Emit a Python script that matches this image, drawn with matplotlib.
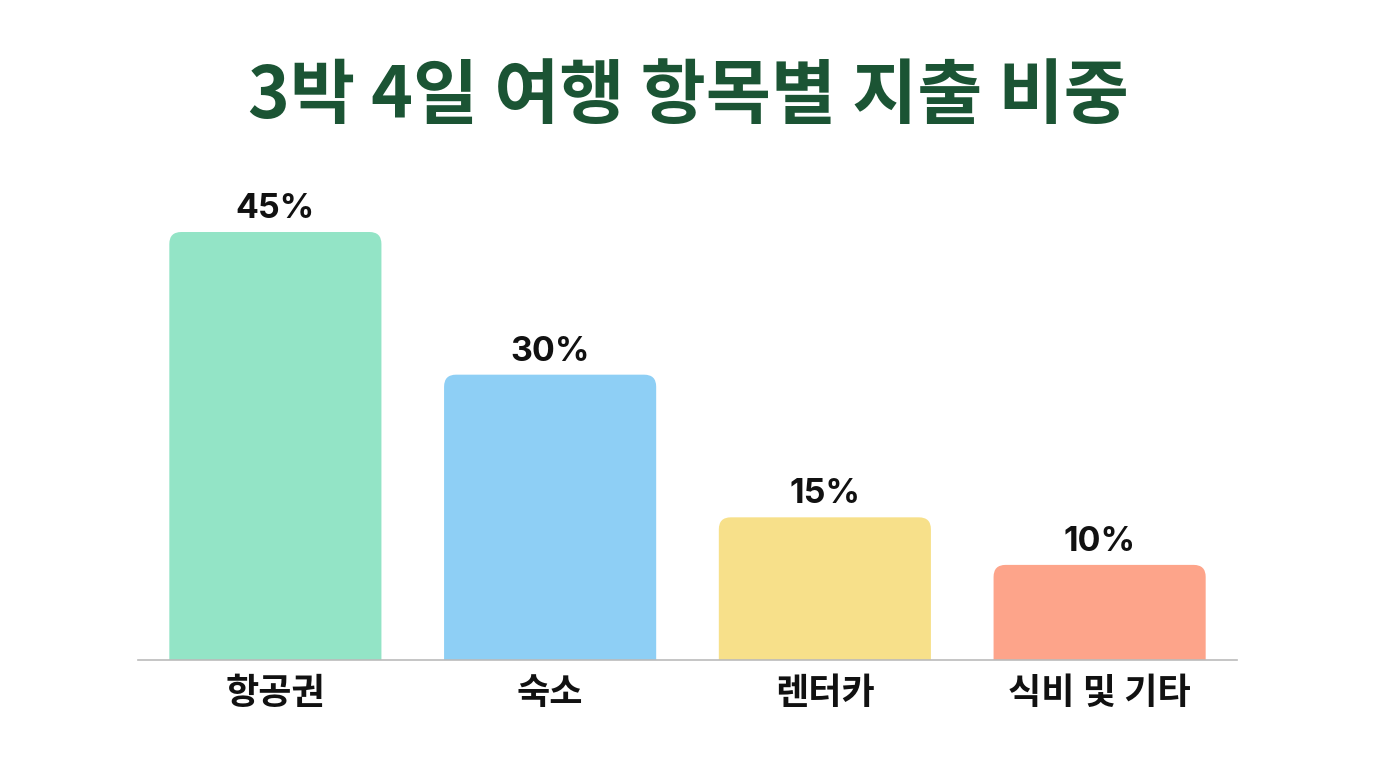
import matplotlib
matplotlib.use("Agg")
import matplotlib.pyplot as plt
from matplotlib.patches import FancyBboxPatch

plt.rcParams['font.family'] = ['Noto Sans CJK KR', 'DejaVu Sans']

title = "3박 4일 여행 항목별 지출 비중"
categories = ["항공권", "숙소", "렌터카", "식비 및 기타"]
values = [45, 30, 15, 10]
colors = ["#93E4C6", "#8ECFF5", "#F7E08A", "#FDA48A"]

W, H = 1376, 768
fig = plt.figure(figsize=(W / 100, H / 100), dpi=100)
fig.patch.set_facecolor("white")

ax_left, ax_right, ax_bottom, ax_top = 138, 1237, 660, 160
ax = fig.add_axes([ax_left / W, 1 - ax_bottom / H, (ax_right - ax_left) / W, (ax_bottom - ax_top) / H])
ymax = 52.57
ax.set_xlim(-0.5, len(categories) - 0.5)
ax.set_ylim(0, ymax)

bar_w = 0.772
px_per_x = (ax_right - ax_left) / len(categories)
px_per_y = (ax_bottom - ax_top) / ymax
aspect = px_per_x / px_per_y
r = 12 / px_per_x

for i, (v, c) in enumerate(zip(values, colors)):
    x0 = i - bar_w / 2 + r
    y0 = -5
    p = FancyBboxPatch((x0, y0), bar_w - 2 * r, v - y0 - r * aspect,
                       boxstyle=f"round,pad={r},rounding_size={r}",
                       mutation_aspect=aspect, facecolor=c, edgecolor="none",
                       clip_on=True)
    ax.add_patch(p)
    ax.text(i, v + 0.75, f"{v}%", ha="center", va="bottom", fontsize=24.5,
            fontweight="bold", color="#111111", family=["Inter", "DejaVu Sans"])

ax.set_xticks(range(len(categories)))
ax.set_xticklabels(categories, fontsize=26, fontweight="bold", color="#111111")
ax.tick_params(axis="x", length=0, pad=11)
ax.set_yticks([])
for s in ["top", "left", "right"]:
    ax.spines[s].set_visible(False)
ax.spines["bottom"].set_color("#BBBBBB")
ax.spines["bottom"].set_linewidth(1.2)

fig.text(0.5, 1 - 97 / H, title, ha="center", va="center", fontsize=51,
         fontweight="black", color="#1B5434")

fig.savefig("out.png", dpi=100, facecolor="white")
